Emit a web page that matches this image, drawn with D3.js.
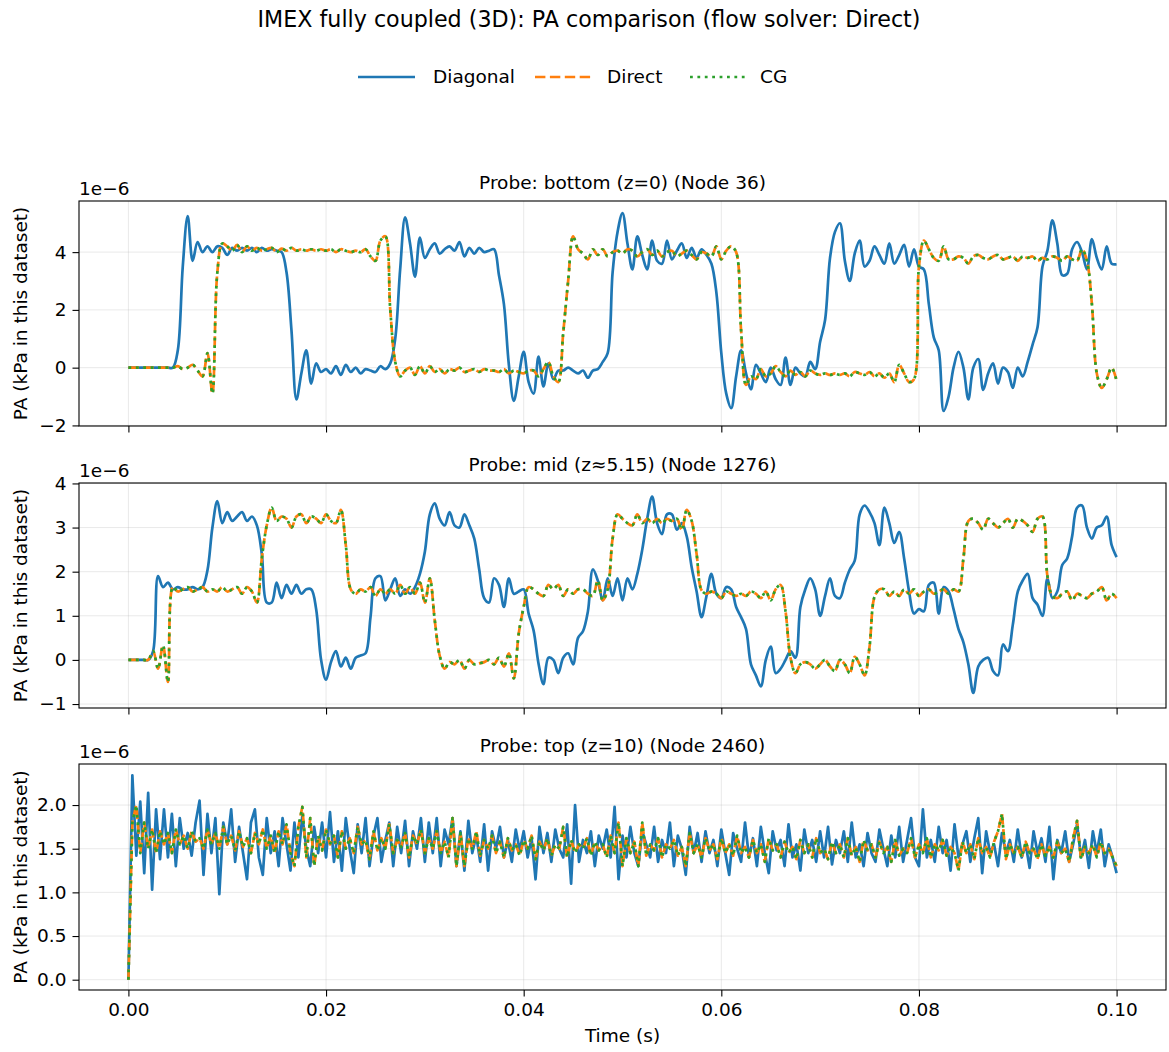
<!DOCTYPE html>
<html>
<head>
<meta charset="utf-8">
<script src="https://cdn.jsdelivr.net/npm/d3@7"></script>
<style>
body { margin: 0; background: #fff; }
text { font-family: "DejaVu Sans", sans-serif; fill: #000; }
</style>
</head>
<body>
<svg id="chart" width="1169" height="1052"></svg>
<script>
// sample spacing (s) of the probe records
var coarseStep = 0.0005;   // bottom + mid probes
var fineStep = 0.0004;     // top probe

// values in units of 1e-6
var bottomDiagonal = [0,0,0,0,0,0,0,0,0,0,
  0.6,3.5,5.25,3.7,4.35,4.0,4.2,4.0,4.2,4.15,
  3.9,4.15,4.05,4.15,4.05,4.15,4.0,4.15,4.05,4.1,
  4.05,4.0,3.3,1.3,-1.1,-0.2,0.6,-0.55,0.15,-0.15,
  -0.05,-0.2,0.05,-0.25,0.1,-0.15,0.0,-0.2,-0.05,-0.1,
  -0.15,0.05,-0.05,0.15,1.0,3.4,5.2,4.3,3.15,4.5,
  3.8,4.1,4.3,3.95,4.1,4.2,4.05,4.35,3.85,4.15,
  3.95,4.15,4.0,4.05,4.1,3.2,2.2,0.1,-1.15,-0.3,
  0.55,-0.5,-0.9,0.38,-0.65,0.15,-0.4,-0.1,-0.1,0.0,
  -0.1,-0.2,-0.1,-0.35,-0.1,-0.05,0.2,0.5,3.3,4.7,
  5.35,4.3,3.4,4.55,3.9,3.4,4.4,3.7,3.6,4.4,
  3.75,4.05,4.3,3.8,4.15,3.8,4.1,3.9,3.6,2.6,
  0.5,-0.9,-1.4,-0.3,0.6,-0.2,-0.75,0.1,-0.2,-0.5,
  0.0,-0.4,-0.6,0.35,-0.6,0.0,-0.2,-0.3,0.2,-0.05,
  0.9,1.65,3.8,4.7,5.0,3.7,3.0,3.95,4.4,3.5,
  3.7,4.2,3.9,3.6,4.3,3.6,3.9,4.25,3.5,4.1,
  3.5,3.4,2.2,1.05,0.6,-1.5,-1.0,0.0,0.55,0.0,
  -1.1,0.0,0.3,-0.77,-0.2,0.15,-0.55,0.0,-0.15,-0.7,
  0.0,-0.3,0.2,0.8,1.4,3.5,4.05,5.1,4.3,3.2,
  3.25,4.1,4.35,4.0,3.4,4.45,3.8,3.4,4.2,3.6,
  3.58];
var bottomDirect = [0,0,0,0,0,0,0,0,0,0,
  0.05,-0.05,0.0,0.1,-0.1,-0.3,0.5,-0.9,3.3,4.3,
  4.2,4.05,4.25,4.0,4.2,4.05,4.15,4.05,4.1,4.15,
  4.0,4.12,4.05,4.15,4.05,4.1,4.05,4.1,4.05,4.1,
  4.05,4.1,4.0,4.1,4.05,4.0,4.05,4.0,4.1,3.85,
  3.7,4.4,4.55,2.0,0.2,-0.3,-0.1,0.0,-0.25,0.05,
  -0.2,0.05,-0.15,-0.05,-0.2,-0.05,-0.1,0.0,-0.15,-0.1,
  -0.05,-0.15,-0.05,-0.1,-0.1,-0.15,-0.05,-0.2,-0.1,-0.15,
  -0.2,-0.1,-0.1,-0.3,-0.05,0.2,-0.3,-0.5,1.2,3.0,
  4.55,4.1,3.95,3.75,4.1,3.9,4.1,3.85,4.0,4.05,
  3.95,4.1,4.05,3.85,4.0,4.1,3.9,4.05,3.85,4.0,
  4.05,3.85,3.95,4.05,3.9,3.75,4.0,3.95,3.85,4.2,
  3.75,4.05,4.2,4.0,1.3,-0.6,-0.3,-0.4,-0.05,-0.3,
  -0.2,0.05,-0.15,-0.3,-0.1,-0.25,-0.15,-0.3,-0.1,-0.2,
  -0.25,-0.2,-0.25,-0.2,-0.25,-0.2,-0.3,-0.15,-0.2,-0.25,
  -0.15,-0.3,-0.2,-0.35,-0.2,-0.5,0.1,-0.2,-0.5,-0.4,
  3.5,4.4,4.1,3.8,3.7,4.2,3.75,3.75,3.85,3.8,
  3.6,3.85,3.9,3.8,3.75,3.85,3.9,3.75,3.8,3.85,
  3.7,3.85,3.8,3.85,3.7,3.8,3.75,3.85,3.8,3.7,
  3.85,3.75,3.7,4.1,3.7,2.2,-0.2,-0.7,-0.4,0.0,
  -0.45];
var bottomCG = bottomDirect; // CG lies on top of Direct

var midDiagonal = [0,0,0,0,0,0.2,1.9,1.65,1.75,1.6,
  1.65,1.6,1.6,1.65,1.6,1.65,2.03,3.0,3.6,3.1,
  3.35,3.15,3.25,3.35,3.15,3.25,3.05,2.4,1.3,1.3,
  1.75,1.4,1.7,1.5,1.7,1.5,1.6,1.6,1.15,0.0,
  -0.45,-0.05,0.2,-0.15,0.05,-0.2,0.05,0.1,0.15,0.97,
  1.85,1.9,1.35,1.6,1.85,1.45,1.6,1.5,1.65,1.95,
  2.45,3.3,3.55,3.2,3.05,3.35,3.05,3.0,3.3,3.05,
  2.75,2.05,1.4,1.3,1.85,1.7,1.2,1.85,1.5,1.55,
  1.6,1.05,0.67,-0.08,-0.55,0.05,0.0,-0.3,0.05,0.15,
  -0.1,0.5,0.65,1.1,2.05,1.8,1.35,1.85,1.45,1.85,
  1.35,1.85,1.6,1.95,2.5,3.2,3.7,3.1,2.85,3.3,
  3.3,2.95,3.1,2.8,2.1,1.55,0.97,1.45,1.95,1.5,
  1.4,1.65,1.6,1.2,0.97,0.7,-0.1,-0.35,-0.6,0.0,
  0.3,-0.3,-0.2,0.0,0.2,0.05,1.2,1.6,1.85,1.6,
  1.0,1.45,1.85,1.45,1.4,1.75,2.05,2.25,3.3,3.5,
  3.35,3.1,2.6,3.45,3.1,2.65,2.9,2.3,1.55,1.05,
  1.15,1.1,1.7,1.75,1.05,1.65,1.55,1.15,0.7,0.4,
  -0.1,-0.75,-0.15,0.0,0.05,-0.25,-0.35,0.35,0.2,0.8,
  1.55,1.8,1.95,1.4,1.25,1.0,1.85,1.4,1.55,2.15,
  2.3,2.8,3.45,3.5,3.0,2.75,3.0,3.05,3.25,2.6,
  2.33];
var midDirect = [0,0,0,0,0.0,0.2,-0.2,0.33,-0.5,1.65,
  1.55,1.6,1.65,1.55,1.6,1.65,1.55,1.6,1.55,1.65,
  1.55,1.6,1.65,1.5,1.65,1.55,1.3,2.3,3.05,3.45,
  3.15,3.25,3.2,3.0,3.25,3.3,3.1,3.25,3.2,3.1,
  3.3,3.15,3.1,3.4,2.6,1.6,1.5,1.6,1.55,1.65,
  1.45,1.6,1.5,1.6,1.5,1.7,1.5,1.65,1.5,1.75,
  1.3,1.85,0.9,0.1,-0.2,-0.05,-0.1,0.0,-0.2,0.0,
  -0.1,-0.08,-0.05,0.0,-0.1,0.05,-0.15,0.15,-0.42,0.6,
  1.2,1.65,1.6,1.5,1.45,1.7,1.6,1.7,1.45,1.6,
  1.5,1.6,1.6,1.5,1.45,1.8,1.35,1.6,2.75,3.3,
  3.2,3.1,3.05,3.3,3.1,3.2,3.1,3.2,3.1,3.2,
  3.15,3.2,2.95,3.4,3.15,2.4,1.58,1.5,1.55,1.5,
  1.4,1.55,1.5,1.45,1.5,1.45,1.55,1.5,1.4,1.55,
  1.35,1.6,1.7,1.1,0.05,-0.3,-0.1,-0.05,-0.1,-0.2,
  -0.1,0.0,-0.15,-0.25,0.0,-0.1,-0.3,0.07,-0.1,-0.35,
  0.3,1.43,1.6,1.6,1.45,1.55,1.45,1.6,1.5,1.6,
  1.45,1.55,1.6,1.5,1.55,1.6,1.5,1.6,1.55,2.3,
  3.15,3.2,3.1,2.95,3.2,3.1,3.0,3.1,3.2,3.0,
  3.2,3.15,3.05,2.9,3.2,3.25,1.9,1.45,1.4,1.5,
  1.55,1.35,1.5,1.45,1.4,1.5,1.55,1.65,1.35,1.5,
  1.4];
var midCG = midDirect;

var topDiagonal = [0.00,2.34,1.42,2.04,1.22,2.14,1.03,1.95,1.38,1.95,1.40,1.90,1.30,1.85,1.50,1.68,1.42,1.80,2.05,1.20,1.90,1.45,1.85,0.98,1.80,
  1.55,1.95,1.35,1.75,1.45,1.15,1.80,1.95,1.40,1.20,1.85,1.45,1.70,1.30,1.85,1.55,1.25,1.80,1.40,1.88,1.50,1.30,1.75,1.45,1.80,
  1.40,1.92,1.35,1.70,1.25,1.85,1.50,1.22,1.78,1.45,1.85,1.30,1.65,1.85,1.35,1.60,1.80,1.30,1.75,1.45,1.82,1.30,1.70,1.50,1.85,
  1.35,1.80,1.45,1.85,1.30,1.72,1.55,1.85,1.30,1.70,1.25,1.82,1.45,1.65,1.35,1.78,1.25,1.70,1.50,1.75,1.40,1.60,1.35,1.72,1.48,
  1.70,1.40,1.62,1.15,1.75,1.45,1.68,1.35,1.72,1.50,1.40,1.78,1.10,2.00,1.35,1.60,1.45,1.70,1.30,1.65,1.50,1.72,1.40,1.98,1.15,
  1.65,1.40,1.75,1.45,1.30,1.70,1.55,1.40,1.75,1.35,1.60,1.45,1.80,1.30,1.65,1.50,1.20,1.75,1.45,1.68,1.35,1.70,1.45,1.60,1.30,
  1.72,1.45,1.20,1.68,1.50,1.35,1.80,1.40,1.62,1.30,1.75,1.45,1.22,1.70,1.48,1.60,1.30,1.78,1.40,1.55,1.25,1.72,1.45,1.60,1.35,
  1.70,1.40,1.75,1.32,1.60,1.45,1.70,1.35,1.80,1.40,1.55,1.30,1.68,1.45,1.35,1.72,1.50,1.30,1.65,1.40,1.75,1.35,1.60,1.85,1.40,
  1.30,1.95,1.40,1.60,1.35,1.75,1.45,1.60,1.25,1.78,1.40,1.55,1.70,1.35,1.62,1.85,1.22,1.70,1.45,1.55,1.30,1.68,1.45,1.60,1.35,
  1.72,1.40,1.55,1.28,1.70,1.45,1.62,1.35,1.75,1.15,1.60,1.45,1.70,1.35,1.55,1.78,1.40,1.60,1.28,1.70,1.45,1.72,1.30,1.55,1.40,1.22];
var topDirect = [0.00,1.80,2.00,1.45,1.80,1.50,1.72,1.45,1.70,1.55,1.68,1.45,1.72,1.55,1.65,1.50,1.70,1.58,1.62,1.50,1.72,1.55,1.68,1.50,1.75,
  1.55,1.65,1.48,1.70,1.52,1.62,1.45,1.68,1.55,1.72,1.50,1.65,1.45,1.70,1.55,1.78,1.45,1.30,1.75,1.98,1.40,1.85,1.30,1.65,1.48,
  1.72,1.55,1.65,1.40,1.70,1.50,1.62,1.45,1.75,1.55,1.60,1.38,1.70,1.48,1.62,1.50,1.78,1.45,1.60,1.52,1.68,1.40,1.65,1.55,1.72,
  1.45,1.62,1.50,1.70,1.45,1.58,1.40,1.85,1.30,1.68,1.30,1.62,1.50,1.70,1.42,1.60,1.50,1.65,1.45,1.58,1.40,1.62,1.48,1.55,1.42,
  1.60,1.50,1.65,1.38,1.58,1.48,1.62,1.42,1.55,1.50,1.75,1.40,1.60,1.45,1.55,1.50,1.62,1.42,1.58,1.48,1.55,1.40,1.65,1.45,1.80,
  1.30,1.62,1.45,1.58,1.30,1.80,1.42,1.55,1.48,1.62,1.40,1.55,1.50,1.60,1.42,1.52,1.30,1.68,1.45,1.55,1.40,1.62,1.48,1.55,1.38,
  1.62,1.45,1.55,1.42,1.65,1.45,1.52,1.40,1.60,1.45,1.55,1.35,1.62,1.48,1.55,1.40,1.58,1.45,1.52,1.38,1.60,1.45,1.55,1.40,1.62,
  1.45,1.50,1.38,1.58,1.45,1.55,1.40,1.62,1.42,1.52,1.35,1.60,1.48,1.55,1.40,1.58,1.45,1.52,1.35,1.60,1.42,1.50,1.45,1.62,1.40,
  1.55,1.45,1.62,1.40,1.55,1.48,1.60,1.42,1.52,1.45,1.25,1.58,1.45,1.55,1.38,1.62,1.45,1.52,1.40,1.58,1.70,1.90,1.38,1.55,1.45,
  1.52,1.40,1.58,1.45,1.50,1.38,1.55,1.42,1.52,1.40,1.58,1.45,1.50,1.35,1.62,1.82,1.38,1.52,1.45,1.55,1.40,1.58,1.45,1.50,1.40,1.30];
var topCG = topDirect;

var seriesNames = ["Diagonal", "Direct", "CG"];
var xTicks = [0, 0.02, 0.04, 0.06, 0.08, 0.10];

var colors = ["#1f77b4", "#ff7f0e", "#2ca02c"];
var dashes = [null, "10.4,4.5", "2.8,4.6"];
var lineW = 2.7;
var fs = '18.5px';

var svg = d3.select('#chart');

var x = d3.scaleLinear().domain([-0.005, 0.105]).range([79, 1166]);

var panels = [
  { title: "Probe: bottom (z=0) (Node 36)", top: 201, bottom: 426, domain: [-2.02, 5.77],
    ticks: [-2, 0, 2, 4], fmt: d3.format("d"), step: coarseStep, smooth: true, data: [bottomDiagonal, bottomDirect, bottomCG] },
  { title: "Probe: mid (z\u22485.15) (Node 1276)", top: 483, bottom: 708, domain: [-1.09, 4.01],
    ticks: [-1, 0, 1, 2, 3, 4], fmt: d3.format("d"), step: coarseStep, smooth: true, data: [midDiagonal, midDirect, midCG] },
  { title: "Probe: top (z=10) (Node 2460)", top: 764, bottom: 990, domain: [-0.118, 2.47],
    ticks: [0, 0.5, 1.0, 1.5, 2.0], fmt: d3.format(".1f"), step: fineStep, smooth: false, data: [topDiagonal, topDirect, topCG] }
];

// title
svg.append('text').attr('x', 589).attr('y', 27).attr('text-anchor', 'middle')
  .style('font-size', '22.2px').text('IMEX fully coupled (3D): PA comparison (flow solver: Direct)');

// legend
var legendX = [358, 535, 690];
var legendText = [433, 607, 760];
seriesNames.forEach(function (name, k) {
  var ln = svg.append('line').attr('x1', legendX[k]).attr('x2', legendX[k] + 57)
    .attr('y1', 77).attr('y2', 77)
    .attr('stroke', colors[k]).attr('stroke-width', lineW);
  if (dashes[k]) ln.attr('stroke-dasharray', dashes[k]);
  svg.append('text').attr('x', legendText[k]).attr('y', 83).style('font-size', fs).text(name);
});

panels.forEach(function (p, pi) {
  var y = d3.scaleLinear().domain(p.domain).range([p.bottom, p.top]);
  var g = svg.append('g');

  // grid
  g.selectAll('.gx').data(xTicks).enter().append('line')
    .attr('x1', function (d) { return x(d); }).attr('x2', function (d) { return x(d); })
    .attr('y1', p.top).attr('y2', p.bottom)
    .attr('stroke', '#b0b0b0').attr('stroke-opacity', 0.35).attr('stroke-width', 0.8);
  g.selectAll('.gy').data(p.ticks).enter().append('line')
    .attr('x1', 79).attr('x2', 1166)
    .attr('y1', function (d) { return y(d); }).attr('y2', function (d) { return y(d); })
    .attr('stroke', '#b0b0b0').attr('stroke-opacity', 0.35).attr('stroke-width', 0.8);

  // axes
  var yAxis = d3.axisLeft(y).tickValues(p.ticks).tickFormat(p.fmt).tickSize(6.5).tickPadding(6);
  var ya = g.append('g').attr('transform', 'translate(79,0)').call(yAxis);
  var xAxis = d3.axisBottom(x).tickValues(xTicks).tickSize(6.5).tickPadding(6)
    .tickFormat(pi === 2 ? d3.format(".2f") : function () { return ""; });
  var xa = g.append('g').attr('transform', 'translate(0,' + p.bottom + ')').call(xAxis);
  [ya, xa].forEach(function (a) {
    a.select('.domain').remove();
    a.selectAll('line').attr('stroke', '#000').attr('stroke-width', 1.1);
    a.selectAll('text').style('font-size', fs).style('font-family', '"DejaVu Sans", sans-serif').attr('fill', '#000');
  });

  // series
  var clipId = 'clip' + pi;
  svg.append('clipPath').attr('id', clipId).append('rect')
    .attr('x', 79).attr('y', p.top).attr('width', 1166 - 79).attr('height', p.bottom - p.top);
  var line = d3.line()
    .x(function (d, i) { return x(i * p.step); })
    .y(function (d) { return y(d); })
    .curve(p.smooth ? d3.curveCatmullRom.alpha(0.5) : d3.curveLinear);
  p.data.forEach(function (vals, k) {
    var path = g.append('path').datum(vals)
      .attr('clip-path', 'url(#' + clipId + ')')
      .attr('d', line).attr('fill', 'none')
      .attr('stroke', colors[k]).attr('stroke-width', lineW)
      .attr('stroke-linejoin', 'round');
    if (dashes[k]) path.attr('stroke-dasharray', dashes[k]);
  });

  // frame
  g.append('rect').attr('x', 79).attr('y', p.top).attr('width', 1166 - 79).attr('height', p.bottom - p.top)
    .attr('fill', 'none').attr('stroke', '#000').attr('stroke-width', 1.1);

  // labels
  g.append('text').attr('x', 622.5).attr('y', p.top - 12).attr('text-anchor', 'middle')
    .style('font-size', fs).text(p.title);
  g.append('text').attr('x', 79).attr('y', p.top - 6).style('font-size', fs).text('1e\u22126');
  g.append('text').attr('transform', 'translate(27,' + ((p.top + p.bottom) / 2) + ') rotate(-90)')
    .attr('text-anchor', 'middle').style('font-size', fs).text('PA (kPa in this dataset)');
});

svg.append('text').attr('x', 622.5).attr('y', 1042).attr('text-anchor', 'middle')
  .style('font-size', fs).text('Time (s)');
</script>
</body>
</html>
